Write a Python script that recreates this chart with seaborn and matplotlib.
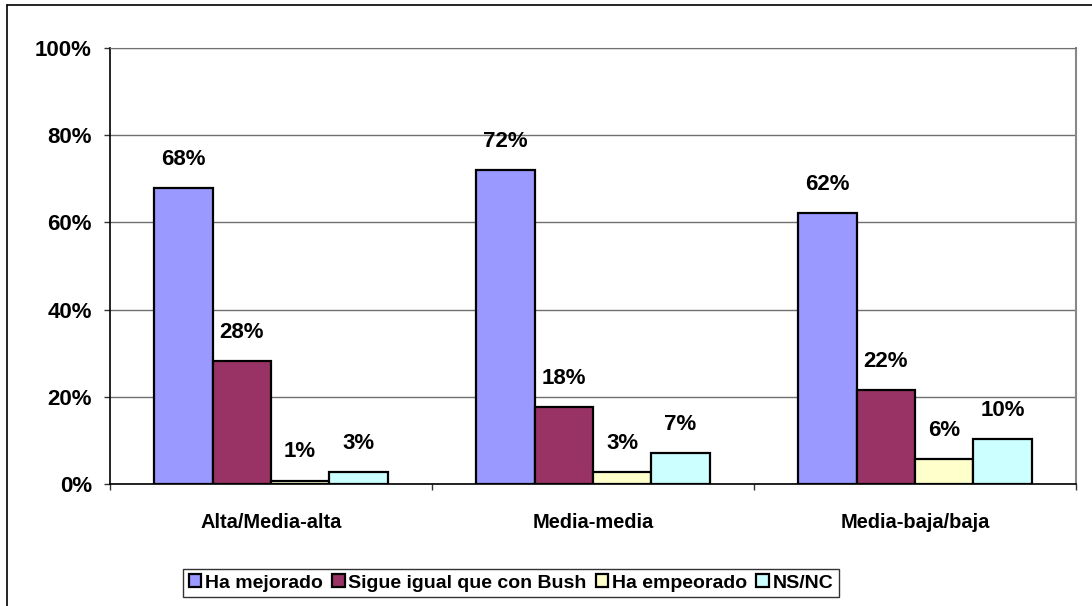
import matplotlib.pyplot as plt
import pandas as pd
import seaborn as sns
from matplotlib.lines import Line2D

clases = ["Alta/Media-alta", "Media-media", "Media-baja/baja"]
respuestas = ["Ha mejorado", "Sigue igual que con Bush", "Ha empeorado", "NS/NC"]
ha_mejorado = [67.8, 72.0, 62.1]
sigue_igual = [28.1, 17.6, 21.6]
ha_empeorado = [0.8, 2.7, 5.7]
ns_nc = [2.8, 7.0, 10.3]
colores = ["#9999FF", "#993366", "#FFFFCC", "#CCFFFF"]
y_ticks = [0, 20, 40, 60, 80, 100]

series = [ha_mejorado, sigue_igual, ha_empeorado, ns_nc]
df = pd.DataFrame([
    {"clase": c, "respuesta": r, "valor": v}
    for r, vals in zip(respuestas, series)
    for c, v in zip(clases, vals)
])

sns.set_style("white")
plt.rcParams["font.family"] = ["Liberation Sans", "DejaVu Sans"]
plt.rcParams["font.weight"] = "bold"
plt.rcParams["text.color"] = "black"
plt.rcParams["xtick.color"] = "black"
plt.rcParams["ytick.color"] = "black"

fig = plt.figure(figsize=(10.92, 6.06), dpi=100)
ax = fig.add_axes([110 / 1092, 1 - 484 / 606, 966 / 1092, 436 / 606])

sns.barplot(data=df, x="clase", y="valor", hue="respuesta", order=clases,
            hue_order=respuestas, palette=colores, saturation=1,
            edgecolor="black", linewidth=1.6, width=0.725, gap=0,
            errorbar=None, ax=ax)

for cont in ax.containers:
    ax.bar_label(cont, labels=[f"{round(b.get_height())}%" for b in cont],
                 padding=13, fontsize=16, fontweight="bold", color="black")

ax.set_ylim(0, 100)
ax.set_xlim(-0.5, 2.5)
ax.set_yticks(y_ticks)
ax.set_yticklabels([f"{t}%" for t in y_ticks], fontsize=16, fontweight="bold")
ax.set_xticks(range(3))
ax.set_xticklabels(clases, fontsize=14.4, fontweight="bold")
ax.set_xticks([-0.5, 0.5, 1.5, 2.5], minor=True)
ax.tick_params(axis="x", which="major", length=0, pad=21)
ax.tick_params(axis="x", which="minor", length=4.5, width=1, color="#333333",
               direction="out", bottom=True)
ax.tick_params(axis="y", length=4.5, width=1, color="#333333", direction="out",
               left=True, pad=8.5)
ax.set_xlabel("")
ax.set_ylabel("")

ax.yaxis.grid(True, color="#707070", linewidth=1)
ax.set_axisbelow(True)
for side in ["left", "bottom"]:
    ax.spines[side].set_color("black")
    ax.spines[side].set_linewidth(1.2)
ax.spines["top"].set_color("#707070")
ax.spines["right"].set_color("#888888")
ax.spines["right"].set_linewidth(1.5)
ax.spines["bottom"].set_zorder(5)

handles, labels = ax.get_legend_handles_labels()
ax.get_legend().remove()
leg = fig.legend(handles, labels, loc="center", bbox_to_anchor=(511 / 1092, 1 - 583 / 606),
                 ncol=4, fontsize=14, frameon=True, fancybox=False,
                 handlelength=0.65, handleheight=0.65, handletextpad=0.2,
                 columnspacing=0.45, borderpad=0.3, borderaxespad=0)
leg.get_frame().set_edgecolor("black")
leg.get_frame().set_linewidth(1.0)
for h in leg.legend_handles:
    h.set_edgecolor("black")
    h.set_linewidth(1.6)

# outer chart frame (only left and top visible in the crop)
fig.add_artist(Line2D([7 / 1092, 7 / 1092], [0, 1 - 5 / 606], color="black", lw=1.2))
fig.add_artist(Line2D([7 / 1092, 1], [1 - 5 / 606, 1 - 5 / 606], color="black", lw=1.2))

fig.savefig("out.png", dpi=100)
